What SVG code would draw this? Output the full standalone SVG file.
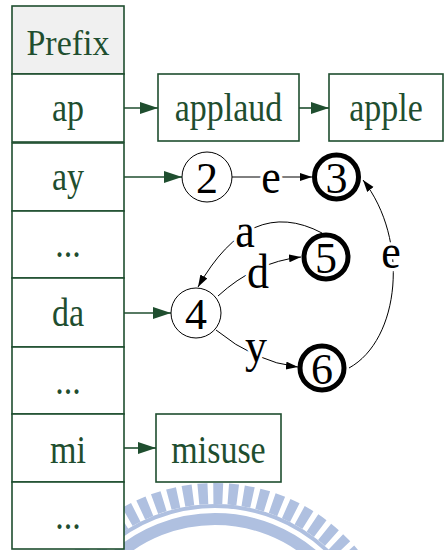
<svg xmlns="http://www.w3.org/2000/svg" width="445" height="550" viewBox="0 0 445 550">
  <style>
    .cell { fill: #ffffff; stroke: #1f4e2f; stroke-width: 1.6; }
    .head { fill: #f0f0f0; }
    .box { fill: #ffffff; stroke: #1f4e2f; stroke-width: 1.6; }
    .tt { font-family: "Liberation Serif", "Times New Roman", serif; font-size: 34px; fill: #1f4e2f; text-anchor: middle; }
    .st { fill: #ffffff; stroke: #000000; stroke-width: 1; }
    .fin { fill: #ffffff; stroke: #000000; stroke-width: 5; }
    .num { font-family: "Liberation Serif", "Times New Roman", serif; font-size: 44px; fill: #000000; text-anchor: middle; }
    .lbl { font-family: "Liberation Serif", "Times New Roman", serif; font-size: 44px; fill: #000000; text-anchor: middle; stroke: #ffffff; stroke-width: 6; paint-order: stroke; }
    .glink { fill: none; stroke: #1f4e2f; stroke-width: 1.6; marker-end: url(#ga); }
    .edge { fill: none; stroke: #000000; stroke-width: 1; marker-end: url(#ba); }
    .wm { fill: none; stroke: #afc0e0; }
  </style>
  <defs>
    <marker id="ga" markerUnits="userSpaceOnUse" markerWidth="20" markerHeight="14" refX="18" refY="6" orient="auto">
      <path d="M0,0 L18,6 L0,12 Z" fill="#1f4e2f"/>
    </marker>
    <marker id="ba" markerUnits="userSpaceOnUse" markerWidth="14" markerHeight="10" refX="12" refY="4" orient="auto">
      <path d="M0,0 L12,4 L0,8 Z" fill="#000000"/>
    </marker>
  </defs>

  <!-- faint emblem behind the table -->
  <g id="emblem">
    <circle class="wm" cx="215" cy="669" r="175.5" stroke-width="21" stroke-dasharray="9.5 5.5"/>
    <circle class="wm" cx="215" cy="669" r="163" stroke-width="4"/>
    <circle class="wm" cx="215" cy="669" r="150" stroke-width="12"/>
  </g>

  <!-- prefix table -->
  <g id="table">
    <g id="cell-prefix"><rect class="cell head" x="12" y="6" width="112" height="68"/><text class="tt" transform="translate(68,55) scale(1,1.05)">Prefix</text></g>
    <g id="cell-ap"><rect class="cell" x="12" y="74" width="112" height="68"/><text class="tt" transform="translate(68,121) scale(1,1.2)">ap</text></g>
    <g id="cell-ay"><rect class="cell" x="12" y="143" width="112" height="68"/><text class="tt" transform="translate(68,190) scale(1,1.2)">ay</text></g>
    <g id="cell-gap1"><rect class="cell" x="12" y="211" width="112" height="67"/><text class="tt" transform="translate(68,257) scale(1,1.2)">...</text></g>
    <g id="cell-da"><rect class="cell" x="12" y="278" width="112" height="69"/><text class="tt" transform="translate(68,326) scale(1,1.2)">da</text></g>
    <g id="cell-gap2"><rect class="cell" x="12" y="347" width="112" height="67"/><text class="tt" transform="translate(68,394) scale(1,1.2)">...</text></g>
    <g id="cell-mi"><rect class="cell" x="12" y="414" width="112" height="68"/><text class="tt" transform="translate(68,463) scale(1,1.2)">mi</text></g>
    <g id="cell-gap3"><rect class="cell" x="12" y="482" width="112" height="67"/><text class="tt" transform="translate(68,529) scale(1,1.2)">...</text></g>
  </g>

  <!-- word boxes -->
  <g id="word-applaud"><rect class="box" x="158" y="74" width="141" height="67"/><text class="tt" transform="translate(228.5,121) scale(1,1.2)">applaud</text></g>
  <g id="word-apple"><rect class="box" x="329" y="74" width="114" height="67"/><text class="tt" transform="translate(386,121) scale(1,1.2)">apple</text></g>
  <g id="word-misuse"><rect class="box" x="156" y="414" width="125" height="68"/><text class="tt" transform="translate(218.5,463) scale(1,1.2)">misuse</text></g>

  <!-- connectors -->
  <g id="connectors">
    <line class="glink" x1="124" y1="108" x2="158" y2="108"/>
    <line class="glink" x1="299" y1="108" x2="329" y2="108"/>
    <line class="glink" x1="124" y1="177" x2="182" y2="177"/>
    <line class="glink" x1="124" y1="313" x2="171" y2="313"/>
    <line class="glink" x1="124" y1="448" x2="156" y2="448"/>

    <line class="edge" x1="232" y1="177" x2="312" y2="177"/>
    <path class="edge" d="M322,233 Q250,195 198,287"/>
    <path class="edge" d="M218,296 Q255,262 301,257"/>
    <path class="edge" d="M216,330 Q255,362 298,367"/>
    <path class="edge" d="M349,368 C400,340 410,240 363,180"/>

    <text class="lbl" transform="translate(271,193) scale(1,1.12)">e</text>
    <text class="lbl" transform="translate(245,247) scale(1,1.12)">a</text>
    <text class="lbl" transform="translate(258,288) scale(1,1.12)">d</text>
    <text class="lbl" transform="translate(256,362) scale(1,1.12)">y</text>
    <text class="lbl" transform="translate(391,268) scale(1,1.12)">e</text>
  </g>

  <!-- automaton states -->
  <g id="state-2"><circle class="st" cx="207" cy="177" r="25"/><text class="num" x="207" y="193">2</text></g>
  <g id="state-3"><circle class="fin" cx="336.5" cy="177" r="22"/><text class="num" x="336.5" y="193">3</text></g>
  <g id="state-4"><circle class="st" cx="196" cy="313" r="25"/><text class="num" x="196" y="329">4</text></g>
  <g id="state-5"><circle class="fin" cx="326" cy="257" r="22"/><text class="num" x="326" y="273">5</text></g>
  <g id="state-6"><circle class="fin" cx="322" cy="368" r="22"/><text class="num" x="322" y="384">6</text></g>
</svg>
